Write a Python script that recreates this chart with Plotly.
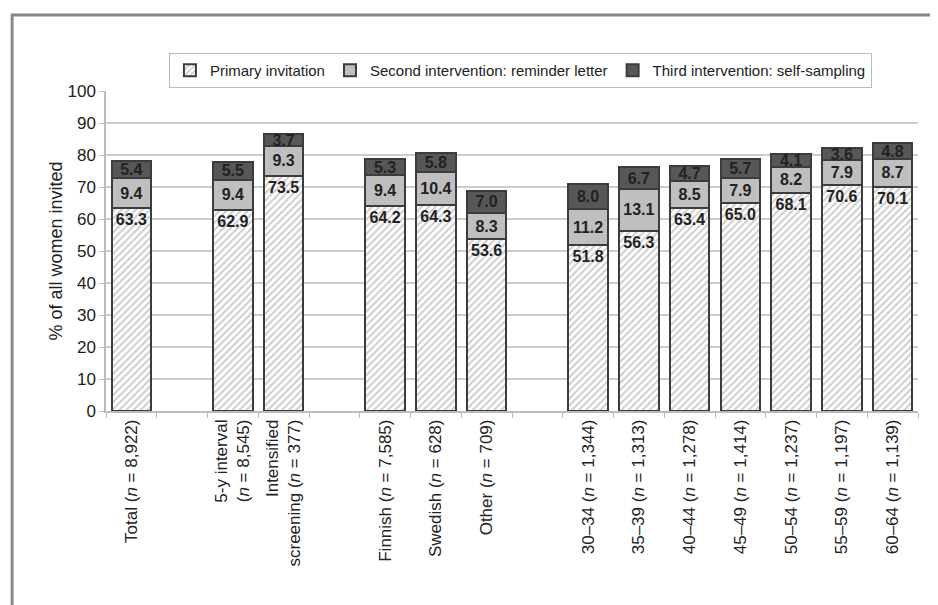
import plotly.graph_objects as go

categories = [
    "Total (<i>n</i> = 8,922)", " ",
    "5-y interval<br>(<i>n</i> = 8,545)", "Intensified<br>screening (<i>n</i> = 377)", "  ",
    "Finnish (<i>n</i> = 7,585)", "Swedish (<i>n</i> = 628)", "Other (<i>n</i> = 709)", "   ",
    "30–34 (<i>n</i> = 1,344)", "35–39 (<i>n</i> = 1,313)", "40–44 (<i>n</i> = 1,278)",
    "45–49 (<i>n</i> = 1,414)", "50–54 (<i>n</i> = 1,237)", "55–59 (<i>n</i> = 1,197)",
    "60–64 (<i>n</i> = 1,139)",
]
primary = [63.3, None, 62.9, 73.5, None, 64.2, 64.3, 53.6, None, 51.8, 56.3, 63.4, 65.0, 68.1, 70.6, 70.1]
second = [9.4, None, 9.4, 9.3, None, 9.4, 10.4, 8.3, None, 11.2, 13.1, 8.5, 7.9, 8.2, 7.9, 8.7]
third = [5.4, None, 5.5, 3.7, None, 5.3, 5.8, 7.0, None, 8.0, 6.7, 4.7, 5.7, 4.1, 3.6, 4.8]
series_names = ["Primary invitation", "Second intervention: reminder letter", "Third intervention: self-sampling"]

FONT = "Liberation Sans, Arial, sans-serif"
edge = dict(color="#3c3c3c", width=2)
label_font = dict(family=FONT, size=16, color="#222222", weight="bold")

fig = go.Figure()
fig.add_trace(go.Bar(
    x=categories, y=primary, name=series_names[0],
    marker=dict(color="white", line=edge,
                pattern=dict(shape="/", fgcolor="#999999", bgcolor="white", size=5, solidity=0.4)),
    texttemplate="%{y:.1f}", textposition="inside", insidetextanchor="end",
    textfont=label_font,
))
fig.add_trace(go.Bar(
    x=categories, y=second, name=series_names[1],
    marker=dict(color="#bfbfbf", line=edge),
    texttemplate="%{y:.1f}", textposition="inside", insidetextanchor="middle",
    textfont=label_font,
))
fig.add_trace(go.Bar(
    x=categories, y=third, name=series_names[2],
    marker=dict(color="#575757", line=edge),
    texttemplate="%{y:.1f}", textposition="inside", insidetextanchor="middle",
    textfont=label_font,
))
fig.update_traces(constraintext="none", cliponaxis=False)

fig.update_layout(
    width=930, height=597,
    barmode="stack", bargap=0.22,
    paper_bgcolor="white", plot_bgcolor="white",
    margin=dict(l=98, r=20, t=83, b=194),
    font=dict(family=FONT, size=15, color="#222222"),
    showlegend=True,
    legend=dict(orientation="h", x=0.0775, y=1.119, xanchor="left", yanchor="top",
                bordercolor="#bbbbbb", borderwidth=1, bgcolor="white",
                font=dict(family=FONT, size=15, color="#222222"),
                itemwidth=30, tracegroupgap=0, traceorder="normal"),
    shapes=[
        dict(type="path", xref="paper", yref="paper",
             path="M -0.1156 -0.62 L -0.1156 1.2375 L 1.03 1.2375",
             line=dict(color="#888888", width=3)),
    ],
)
fig.update_xaxes(
    type="category", tickson="boundaries", ticks="outside", ticklen=5,
    tickcolor="#bbbbbb", showline=True, linecolor="#bbbbbb", linewidth=1.5,
    showgrid=False, tickangle=-90, tickfont=dict(family=FONT, size=17, color="#222222"),
)
fig.update_yaxes(
    range=[0, 100], dtick=10, ticks="outside", ticklen=5, tickcolor="#bbbbbb",
    showline=True, linecolor="#bbbbbb", linewidth=1.5,
    showgrid=True, gridcolor="#cccccc", gridwidth=1.5, zeroline=False,
    title=dict(text="% of all women invited", font=dict(family=FONT, size=18, color="#222222"), standoff=0),
    tickfont=dict(family=FONT, size=17, color="#222222"),
)
fig.write_html("out.html")
